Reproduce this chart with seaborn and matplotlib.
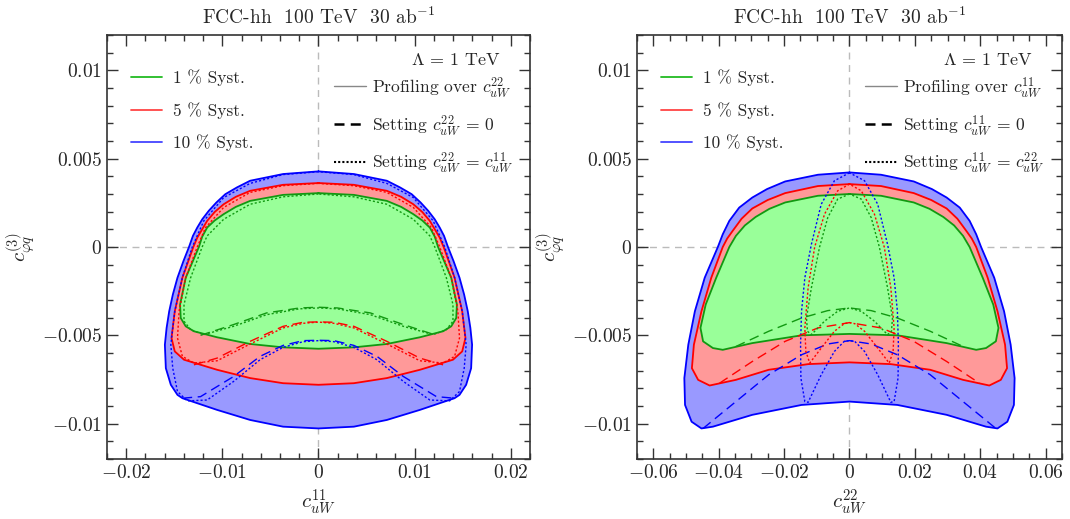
import matplotlib
matplotlib.use("Agg")
import matplotlib.pyplot as plt
import seaborn as sns
import numpy as np
import pandas as pd
from matplotlib.lines import Line2D
from matplotlib.ticker import MultipleLocator, FuncFormatter

# ---- data: half contours (left side, top centre -> bottom centre), mirrored later ----
# left panel: c_uW^11 vs c_phiq^(3)
L_blue_prof = [(0, 0.00428), (-0.00368, 0.00413), (-0.00711, 0.00375), (-0.00849, 0.00337),
               (-0.00969, 0.00299), (-0.01062, 0.00252), (-0.01141, 0.00205),
               (-0.01209, 0.00157), (-0.01261, 0.0011), (-0.01306, 0.00063), (-0.01347, 0.0),
               (-0.01405, -0.0008), (-0.01467, -0.00174), (-0.01515, -0.00269),
               (-0.01553, -0.00364), (-0.0158, -0.00458), (-0.01598, -0.00553),
               (-0.01588, -0.00686), (-0.01536, -0.0078), (-0.01467, -0.00837),
               (-0.01415, -0.00856), (-0.01055, -0.00922), (-0.00711, -0.00979),
               (-0.00368, -0.01017), (0, -0.01027)]
L_red_prof = [(0, 0.00362), (-0.00368, 0.00352), (-0.00711, 0.00318), (-0.0086, 0.00284),
              (-0.00986, 0.00242), (-0.0108, 0.00198), (-0.01158, 0.00148),
              (-0.01261, 0.00053), (-0.01302, 0.0), (-0.01416, -0.00174), (-0.01495, -0.00364),
              (-0.01529, -0.00515), (-0.01495, -0.00591), (-0.01399, -0.00638),
              (-0.01055, -0.00695), (-0.00711, -0.00742), (-0.00368, -0.00771), (0, -0.0078)]
L_green_prof = [(0, 0.00305), (-0.00368, 0.00295), (-0.00711, 0.00261), (-0.0086, 0.00227),
                (-0.00986, 0.00186), (-0.0108, 0.0015), (-0.01158, 0.0011), (-0.0121, 0.00058),
                (-0.01244, 0.0), (-0.01381, -0.00174), (-0.0144, -0.00326), (-0.01433, -0.00402),
                (-0.01381, -0.00449), (-0.01296, -0.00477), (-0.01055, -0.00511),
                (-0.00711, -0.00549), (-0.00368, -0.00568), (0, -0.00576)]

L_green_dash = [(-0.01227, -0.0050), (-0.00883, -0.00439), (-0.00539, -0.00373),
                (-0.00196, -0.00345), (0, -0.00341)]
L_red_dash = [(-0.01296, -0.00667), (-0.01055, -0.00629), (-0.00711, -0.00534),
              (-0.00368, -0.00449), (-0.0016, -0.00426), (0, -0.00424)]
L_blue_dash = [(-0.01415, -0.00856), (-0.01227, -0.00847), (-0.00883, -0.00733),
               (-0.00608, -0.00619), (-0.00368, -0.00557), (-0.0016, -0.0053), (0, -0.00528)]

L_blue_dot = [(0, 0.00426), (-0.00368, 0.0041), (-0.00711, 0.0036), (-0.00986, 0.0028),
              (-0.01193, 0.00148), (-0.01313, 0.0), (-0.01416, -0.00174), (-0.01495, -0.00364),
              (-0.01536, -0.00553), (-0.01516, -0.00686), (-0.01467, -0.00818),
              (-0.01364, -0.00871), (-0.01158, -0.00866), (-0.00883, -0.00761),
              (-0.00608, -0.00638), (-0.00368, -0.00568), (-0.0016, -0.00536), (0, -0.0053)]
L_red_dot = [(0, 0.0036), (-0.00368, 0.00347), (-0.00711, 0.00309), (-0.00986, 0.00224),
             (-0.01175, 0.0011), (-0.01261, 0.0), (-0.01381, -0.00174), (-0.0145, -0.00364),
             (-0.01467, -0.00515), (-0.01416, -0.00619), (-0.01296, -0.00657),
             (-0.01055, -0.00644), (-0.00711, -0.00549), (-0.00368, -0.00458),
             (-0.0016, -0.00432), (0, -0.00425)]
L_green_dot = [(0, 0.0030), (-0.00368, 0.00284), (-0.00711, 0.00242), (-0.00986, 0.00157),
               (-0.01158, 0.00063), (-0.0121, 0.0), (-0.0133, -0.00174), (-0.01399, -0.00326),
               (-0.01399, -0.0042), (-0.0133, -0.00468), (-0.01193, -0.00496),
               (-0.00883, -0.00449), (-0.00539, -0.00383), (-0.00196, -0.0035), (0, -0.00345)]

# right panel: c_uW^22 vs c_phiq^(3)
R_blue_prof = [(0, 0.00422), (-0.00964, 0.00409), (-0.01967, 0.00371), (-0.0252, 0.00328),
               (-0.02972, 0.0028), (-0.03373, 0.00223), (-0.03675, 0.00148),
               (-0.03876, 0.00072), (-0.04026, 0.0), (-0.04428, -0.00174), (-0.04729, -0.00364),
               (-0.0493, -0.00553), (-0.05051, -0.00742), (-0.0503, -0.00894),
               (-0.04829, -0.00989), (-0.04528, -0.01027), (-0.04177, -0.01017),
               (-0.02972, -0.0095), (-0.01466, -0.00894), (0, -0.00875)]
R_red_prof = [(0, 0.00356), (-0.00964, 0.00345), (-0.01967, 0.00305), (-0.0250, 0.00266),
              (-0.02972, 0.00218), (-0.0330, 0.0016), (-0.03574, 0.00091), (-0.0374, 0.00048),
              (-0.03876, 0.0), (-0.04227, -0.00174), (-0.04528, -0.00364), (-0.04759, -0.00553),
              (-0.0482, -0.00686), (-0.04629, -0.00752), (-0.04277, -0.00784),
              (-0.03474, -0.00752), (-0.0247, -0.00695), (-0.01265, -0.00663), (0, -0.00653)]
R_green_prof = [(0, 0.0030), (-0.00964, 0.0029), (-0.01967, 0.00252), (-0.0245, 0.00216),
                (-0.0287, 0.0017), (-0.0320, 0.00122), (-0.03474, 0.00063), (-0.03675, 0.0),
                (-0.04076, -0.00174), (-0.04398, -0.00326), (-0.04558, -0.00458),
                (-0.04478, -0.00534), (-0.04177, -0.00572), (-0.03876, -0.00582),
                (-0.02972, -0.00544), (-0.01466, -0.0050), (0, -0.00492)]

R_green_dash = [(-0.03474, -0.00563), (-0.0247, -0.00477), (-0.01466, -0.00402),
                (-0.00663, -0.0036), (0, -0.00345)]
R_red_dash = [(-0.03976, -0.00771), (-0.02972, -0.00648), (-0.01967, -0.00534),
              (-0.00964, -0.00458), (0, -0.00428)]
R_blue_dash = [(-0.04478, -0.01027), (-0.03474, -0.00875), (-0.0247, -0.00723),
               (-0.01466, -0.0061), (-0.00663, -0.00549), (0, -0.0053)]

R_blue_dot = [(0, 0.0042), (-0.00461, 0.00375), (-0.00864, 0.00242), (-0.01165, 0.00015),
              (-0.01365, -0.00174), (-0.01466, -0.00364), (-0.01496, -0.00553),
              (-0.01486, -0.00742), (-0.01365, -0.00875), (-0.01265, -0.00879),
              (-0.00864, -0.00723), (-0.00461, -0.00591), (-0.0016, -0.00534), (0, -0.0053)]
R_red_dot = [(0, 0.00356), (-0.00361, 0.00318), (-0.00763, 0.00186), (-0.01064, 0.0),
             (-0.01265, -0.00231), (-0.01365, -0.00458), (-0.01335, -0.00591),
             (-0.01215, -0.00657), (-0.00864, -0.00572), (-0.00461, -0.00477),
             (-0.0016, -0.00434), (0, -0.00428)]
R_green_dot = [(0, 0.0030), (-0.00361, 0.00271), (-0.00663, 0.00167), (-0.00914, 0.0),
               (-0.01165, -0.00231), (-0.01315, -0.00402), (-0.01285, -0.00477),
               (-0.01165, -0.00496), (-0.00763, -0.0042), (-0.00361, -0.00364), (0, -0.00345)]

syst_labels = ["1 % Syst.", "5 % Syst.", "10 % Syst."]
edge_colors = {"green": "#119911", "red": "#ff0000", "blue": "#0000ff"}
fill_colors = {"green": "#99ff99", "red": "#ff9999", "blue": "#9999ff"}
legend_colors = ["#22bb22", "#ff4444", "#4444ff"]


def mirror(half):
    # symmetric contour: left half + reflected right half
    pts = np.array(half)
    right = pts[::-1].copy()
    right[:, 0] = -right[:, 0]
    return pd.DataFrame(np.vstack([pts, right[1:]]), columns=["x", "y"])


sns.set_style("ticks")
plt.rcParams["font.family"] = ["cmr10", "DejaVu Serif"]
plt.rcParams["mathtext.fontset"] = "cm"
plt.rcParams["axes.unicode_minus"] = False
plt.rcParams["axes.formatter.use_mathtext"] = True
plt.rcParams["lines.solid_joinstyle"] = "round"
plt.rcParams["lines.dash_joinstyle"] = "round"

fig = plt.figure(figsize=(10.7, 5.19), dpi=100)
ax1 = fig.add_axes([0.1, 0.1156, 0.3953, 0.817])
ax2 = fig.add_axes([0.5953, 0.1156, 0.3972, 0.817])

panels = [
    (ax1, {"green": L_green_prof, "red": L_red_prof, "blue": L_blue_prof},
     {"green": L_green_dash, "red": L_red_dash, "blue": L_blue_dash},
     {"green": L_green_dot, "red": L_red_dot, "blue": L_blue_dot},
     0.022, 0.01, 0.002, "11", "22"),
    (ax2, {"green": R_green_prof, "red": R_red_prof, "blue": R_blue_prof},
     {"green": R_green_dash, "red": R_red_dash, "blue": R_blue_dash},
     {"green": R_green_dot, "red": R_red_dot, "blue": R_blue_dot},
     0.065, 0.02, 0.005, "22", "11"),
]

tick_fmt = FuncFormatter(lambda v, p: "$%g$" % round(v, 6) if abs(v) > 1e-12 else "$0$")

for ax, prof, dash, dot, xl, xmaj, xmin, me, other in panels:
    ax.axvline(0, color="#bbbbbb", lw=1, ls=(0, (5, 4)), zorder=0)
    ax.axhline(0, color="#bbbbbb", lw=1, ls=(0, (5, 4)), zorder=0)

    for c in ["blue", "red", "green"]:
        df = mirror(prof[c])
        ax.fill(df["x"], df["y"], color=fill_colors[c], lw=0, zorder=1)
        sns.lineplot(data=df, x="x", y="y", sort=False, estimator=None, ax=ax,
                     color=edge_colors[c], lw=1.3, zorder=3)
    for c in ["blue", "red", "green"]:
        sns.lineplot(data=mirror(dash[c]), x="x", y="y", sort=False, estimator=None, ax=ax,
                     color=edge_colors[c], lw=1.0, ls=(0, (7, 4)), zorder=4)
        sns.lineplot(data=mirror(dot[c]), x="x", y="y", sort=False, estimator=None, ax=ax,
                     color=edge_colors[c], lw=1.0, ls=(0, (1.5, 1.5)), zorder=4)

    ax.set_xlim(-xl, xl)
    ax.set_ylim(-0.012, 0.012)
    ax.xaxis.set_major_locator(MultipleLocator(xmaj))
    ax.xaxis.set_minor_locator(MultipleLocator(xmin))
    ax.yaxis.set_major_locator(MultipleLocator(0.005))
    ax.yaxis.set_minor_locator(MultipleLocator(0.001))
    ax.xaxis.set_major_formatter(tick_fmt)
    ax.yaxis.set_major_formatter(tick_fmt)
    ax.tick_params(which="both", direction="in", top=True, right=True, labelsize=14,
                   color="#333333", width=1)
    ax.tick_params(which="major", length=8)
    ax.tick_params(which="minor", length=4)
    for s in ax.spines.values():
        s.set_color("#333333")
        s.set_linewidth(1.2)

    ax.set_xlabel(r"$c_{uW}^{%s}$" % me, fontsize=15, labelpad=4)
    ax.set_ylabel(r"$c_{\varphi q}^{(3)}$", fontsize=15, labelpad=3)
    ax.set_title("FCC-hh  100 TeV  30 ab$^{-1}$", fontsize=14, pad=8)

    h1 = [Line2D([], [], color=col, lw=1.3) for col in legend_colors]
    leg1 = ax.legend(h1, syst_labels, loc="upper left", bbox_to_anchor=(0.02, 0.955),
                     frameon=False, fontsize=12.5, handlelength=1.8, labelspacing=0.9,
                     handletextpad=0.6)
    ax.add_artist(leg1)

    ax.text(0.93, 0.94, r"$\Lambda\,=\,1$ TeV", transform=ax.transAxes, ha="right",
            va="center", fontsize=13)
    h2 = [Line2D([], [], color="#888888", lw=1.0),
          Line2D([], [], color="black", lw=1.8, ls=(0, (4, 2.5))),
          Line2D([], [], color="black", lw=1.5, ls=(0, (1, 1)))]
    labels2 = [r"Profiling over $c_{uW}^{%s}$" % other,
               r"Setting $c_{uW}^{%s}\,=\,0$" % other,
               r"Setting $c_{uW}^{%s}\,=\,c_{uW}^{%s}$" % (other, me)]
    ax.legend(h2, labels2, loc="upper left", bbox_to_anchor=(0.5, 0.943),
              frameon=False, fontsize=12.6, handlelength=1.8, labelspacing=0.75,
              handletextpad=0.35)

fig.savefig("out.png", dpi=100)
